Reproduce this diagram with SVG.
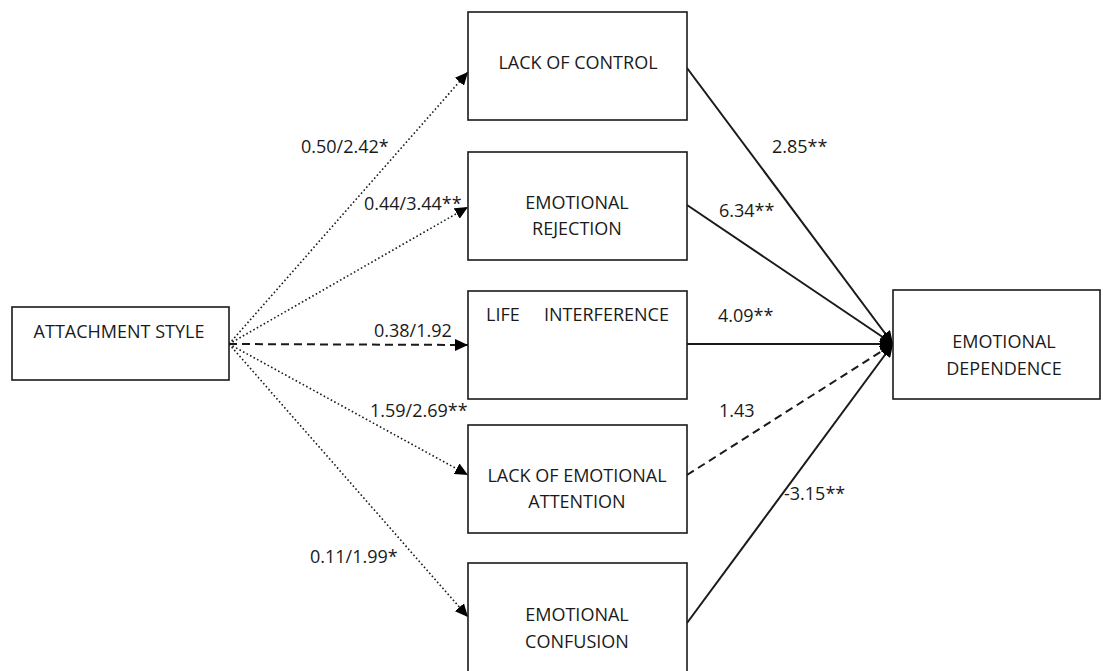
<svg xmlns="http://www.w3.org/2000/svg" width="1103" height="671" viewBox="0 0 1103 671">
<defs>
<style>
.box{fill:#fff;stroke:#1a1a1a;stroke-width:1.6}
.t{font-family:"Open Sans","Liberation Sans",sans-serif;font-size:18px;fill:#1a1a1a}
.c{text-anchor:middle}
.dot{fill:none;stroke:#1a1a1a;stroke-width:1.6;stroke-dasharray:1.6 2.4}
.dash{fill:none;stroke:#1a1a1a;stroke-width:2;stroke-dasharray:8 5}
.sol{fill:none;stroke:#1a1a1a;stroke-width:2}
</style>
<marker id="ah" markerUnits="userSpaceOnUse" markerWidth="14" markerHeight="12" refX="13" refY="6" orient="auto">
<path d="M0,0 L13,6 L0,12 Z" fill="#000"/>
</marker>
</defs>
<rect width="1103" height="671" fill="#fff"/>
<g id="connectors">
<line class="dot" x1="229" y1="344" x2="468" y2="72" marker-end="url(#ah)"/>
<line class="dot" x1="229" y1="344" x2="468" y2="207" marker-end="url(#ah)"/>
<line class="dash" x1="229" y1="344" x2="468" y2="345" marker-end="url(#ah)"/>
<line class="dot" x1="229" y1="344" x2="468" y2="475" marker-end="url(#ah)"/>
<line class="dot" x1="229" y1="344" x2="468" y2="617" marker-end="url(#ah)"/>
<line class="sol" x1="687" y1="68" x2="893" y2="344" marker-end="url(#ah)"/>
<line class="sol" x1="687" y1="205" x2="893" y2="344" marker-end="url(#ah)"/>
<line class="sol" x1="687" y1="344" x2="893" y2="344" marker-end="url(#ah)"/>
<line class="dash" x1="687" y1="475" x2="893" y2="344" marker-end="url(#ah)"/>
<line class="sol" x1="687" y1="623" x2="893" y2="344" marker-end="url(#ah)"/>
<text class="t" x="301" y="153">0.50/2.42*</text>
<text class="t" x="364" y="210">0.44/3.44**</text>
<text class="t" x="374" y="337">0.38/1.92</text>
<text class="t" x="370" y="417">1.59/2.69**</text>
<text class="t" x="310" y="563">0.11/1.99*</text>
<text class="t" x="772" y="153">2.85**</text>
<text class="t" x="719" y="217">6.34**</text>
<text class="t" x="718" y="322">4.09**</text>
<text class="t" x="719" y="417">1.43</text>
<text class="t" x="784" y="500">-3.15**</text>
</g>
<g id="attachment">
<rect class="box" x="12" y="307" width="217" height="73"/>
<text class="t c" x="119" y="338">ATTACHMENT STYLE</text>
</g>
<g id="lack-of-control">
<rect class="box" x="468" y="12" width="219" height="108"/>
<text class="t c" x="578" y="69">LACK OF CONTROL</text>
</g>
<g id="emotional-rejection">
<rect class="box" x="468" y="152" width="219" height="108"/>
<text class="t c" x="577" y="209">EMOTIONAL</text>
<text class="t c" x="577" y="235">REJECTION</text>
</g>
<g id="life-interference">
<rect class="box" x="468" y="291" width="219" height="108"/>
<text class="t" x="486" y="321">LIFE</text>
<text class="t" x="544" y="321">INTERFERENCE</text>
</g>
<g id="lack-of-emotional-attention">
<rect class="box" x="468" y="425" width="219" height="108"/>
<text class="t c" x="577" y="482">LACK OF EMOTIONAL</text>
<text class="t c" x="577" y="508">ATTENTION</text>
</g>
<g id="emotional-confusion">
<rect class="box" x="468" y="563" width="219" height="110"/>
<text class="t c" x="577" y="621">EMOTIONAL</text>
<text class="t c" x="577" y="648">CONFUSION</text>
</g>
<g id="emotional-dependence">
<rect class="box" x="893" y="290" width="207" height="109"/>
<text class="t c" x="1004" y="348">EMOTIONAL</text>
<text class="t c" x="1004" y="375">DEPENDENCE</text>
</g>
</svg>
